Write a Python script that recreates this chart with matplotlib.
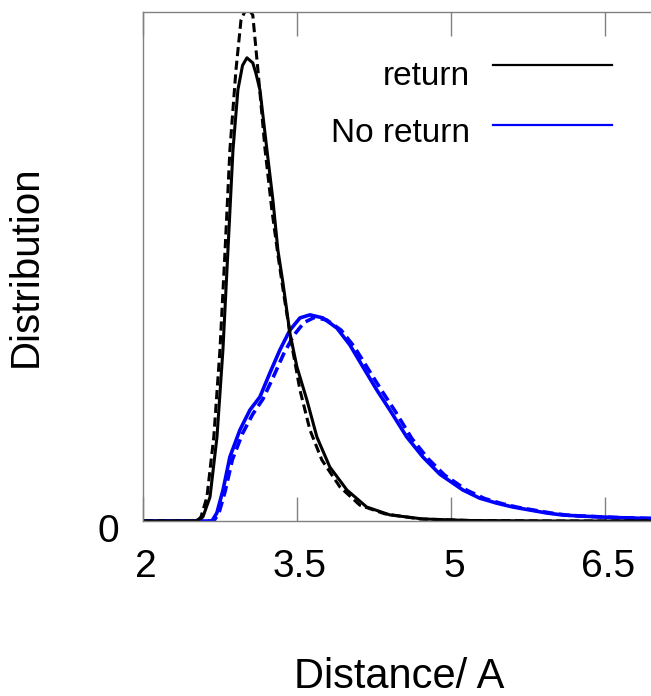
import matplotlib
matplotlib.use("Agg")
import matplotlib.pyplot as plt
from matplotlib.transforms import ScaledTranslation

plt.rcParams['font.family'] = ['Liberation Sans', 'DejaVu Sans']

# distance / distribution pairs
ret_x = [2.0, 2.506, 2.555, 2.584, 2.653, 2.721, 2.779, 2.828, 2.877, 2.925, 2.97, 3.013,
         3.07, 3.10, 3.14, 3.208, 3.266, 3.315, 3.364, 3.432, 3.50, 3.597, 3.695, 3.821,
         3.987, 4.18, 4.406, 4.727, 5.18, 6.0, 7.0]
ret_y = [0.0, 0.0, 0.004, 0.008, 0.047, 0.165, 0.336, 0.532, 0.729, 0.847, 0.895, 0.910,
         0.900, 0.880, 0.847, 0.729, 0.631, 0.532, 0.468, 0.369, 0.303, 0.238, 0.165, 0.106,
         0.061, 0.0275, 0.012, 0.004, 0.001, 0.0, 0.0]

ret2_x = [2.0, 2.526, 2.565, 2.623, 2.69, 2.75, 2.80, 2.847, 2.906, 2.955, 3.013, 3.07,
          3.12, 3.19, 3.256, 3.315, 3.373, 3.45, 3.53, 3.627, 3.743, 3.919, 4.114, 4.357,
          4.70, 5.18, 6.0, 7.0]
ret2_y = [0.0, 0.0, 0.008, 0.047, 0.165, 0.336, 0.532, 0.729, 0.886, 0.984, 1.01, 0.994,
          0.886, 0.729, 0.611, 0.523, 0.444, 0.346, 0.257, 0.179, 0.12, 0.067, 0.031, 0.014,
          0.004, 0.001, 0.0, 0.0]

noret_x = [2.0, 2.672, 2.72, 2.78, 2.847, 2.945, 3.042, 3.14, 3.237, 3.334, 3.432, 3.53,
           3.627, 3.753, 3.89, 4.016, 4.143, 4.28, 4.406, 4.571, 4.727, 4.893, 5.117, 5.28,
           5.448, 5.604, 5.77, 5.935, 6.09, 6.256, 6.578, 6.91, 7.0]
noret_y = [0.0, 0.0, 0.016, 0.061, 0.126, 0.179, 0.218, 0.244, 0.291, 0.336, 0.375, 0.399,
           0.405, 0.399, 0.379, 0.346, 0.303, 0.257, 0.218, 0.165, 0.126, 0.092, 0.061, 0.045,
           0.035, 0.0275, 0.0216, 0.0157, 0.0118, 0.0098, 0.0069, 0.005, 0.005]

noret2_x = [2.0, 2.69, 2.74, 2.80, 2.87, 2.97, 3.07, 3.17, 3.27, 3.37, 3.47, 3.57, 3.67,
            3.79, 3.93, 4.06, 4.19, 4.33, 4.46, 4.62, 4.78, 4.94, 5.16, 5.33, 5.50, 5.65,
            5.82, 5.98, 6.13, 6.30, 6.62, 6.95, 7.0]
noret2_y = [0.0, 0.0, 0.016, 0.058, 0.12, 0.172, 0.21, 0.24, 0.283, 0.328, 0.365, 0.39, 0.40,
            0.395, 0.375, 0.342, 0.30, 0.255, 0.215, 0.162, 0.122, 0.09, 0.06, 0.044, 0.034,
            0.027, 0.021, 0.0155, 0.0115, 0.0095, 0.0068, 0.005, 0.005]

xticks = [2, 3.5, 5, 6.5]
xtick_labels = ['2', '3.5', '5', '6.5']

fig = plt.figure(figsize=(6.51, 6.96), dpi=100)
ax = fig.add_axes([143 / 651, 175 / 696, 513 / 651, 509 / 696])

ax.plot(noret_x, noret_y, color='#0000ff', lw=2.6)
ax.plot(noret2_x, noret2_y, color='#0000ff', lw=2.6, ls=(0, (3, 1.5)))
ax.plot(ret_x, ret_y, color='black', lw=2.2)
ax.plot(ret2_x, ret2_y, color='black', lw=2.2, ls=(0, (3, 1.5)))

ax.set_xlim(2, 7)
ax.set_ylim(0, 1)
ax.set_xticks(xticks)
ax.set_xticklabels(xtick_labels)
ax.set_yticks([0])
ax.set_yticklabels(['0'])

for s in ax.spines.values():
    s.set_color('#808080')
    s.set_linewidth(1.0)
ax.tick_params(axis='x', direction='in', length=17, width=1, color='#808080',
               top=True, labelsize=28, pad=20)
ax.tick_params(axis='y', direction='in', length=0, labelsize=28, pad=17)
for lab in ax.get_yticklabels():
    lab.set_transform(lab.get_transform() + ScaledTranslation(0, -0.07, fig.dpi_scale_trans))
for lab in ax.get_xticklabels():
    lab.set_transform(lab.get_transform() + ScaledTranslation(0.03, 0, fig.dpi_scale_trans))

ax.set_xlabel('Distance/ A', fontsize=30, labelpad=52)
ax.set_ylabel('Distribution', fontsize=29, labelpad=38)

# key: labels right-aligned, sample lines to their right
ax.text(0.637, 0.857, 'return', transform=ax.transAxes, ha='right', va='baseline', fontsize=24)
ax.text(0.637, 0.7446, 'No return', transform=ax.transAxes, ha='right', va='baseline', fontsize=24)
ax.plot([0.682, 0.914], [0.896, 0.896], transform=ax.transAxes, color='black', lw=1.6, clip_on=False)
ax.plot([0.682, 0.914], [0.778, 0.778], transform=ax.transAxes, color='#0000ff', lw=1.6, clip_on=False)

fig.savefig('out.png', dpi=100)
